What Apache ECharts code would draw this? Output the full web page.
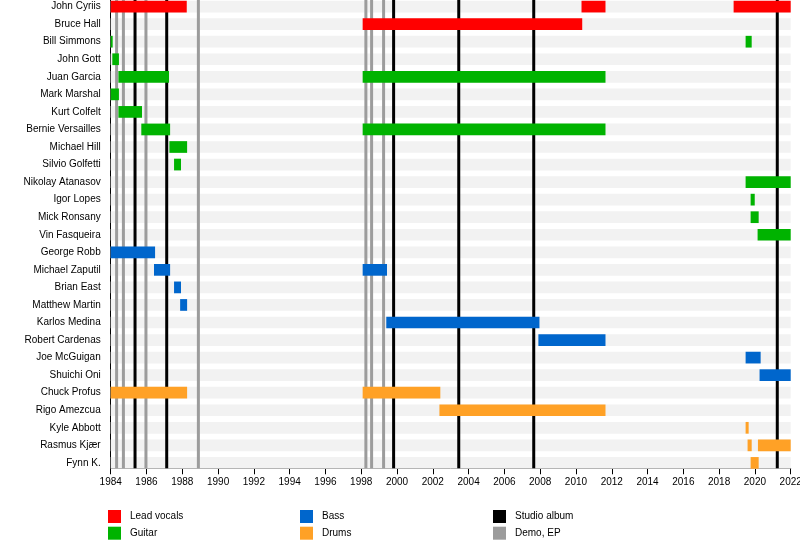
<!DOCTYPE html>
<html>
<head>
<meta charset="utf-8">
<script src="https://cdn.jsdelivr.net/npm/echarts@6/dist/echarts.min.js"></script>
<style>
  html, body { margin: 0; padding: 0; background: #fff; }
  #chart { width: 800px; height: 548px; }
</style>
</head>
<body>
<div id="chart"></div>
<script>
// ---- Data ----
const members = ['John Cyriis','Bruce Hall','Bill Simmons','John Gott','Juan Garcia','Mark Marshal','Kurt Colfelt','Bernie Versailles','Michael Hill','Silvio Golfetti','Nikolay Atanasov','Igor Lopes','Mick Ronsany','Vin Fasqueira','George Robb','Michael Zaputil','Brian East','Matthew Martin','Karlos Medina','Robert Cardenas','Joe McGuigan','Shuichi Oni','Chuck Profus','Rigo Amezcua','Kyle Abbott','Rasmus Kjær','Fynn K.'];

// [start, end, rowIndex]
const leadVocals = [[1984, 1988.25, 0], [2010.31, 2011.65, 0], [2018.81, 2022, 0], [1998.08, 2010.35, 1]];
const guitar = [[1984, 1984.11, 2], [2019.48, 2019.82, 2], [1984.09, 1984.46, 3], [1984.43, 1987.26, 4], [1998.08, 2011.65, 4], [1984, 1984.46, 5], [1984.43, 1985.75, 6], [1985.71, 1987.32, 7], [1998.08, 2011.65, 7], [1987.28, 1988.27, 8], [1987.54, 1987.93, 9], [2019.48, 2022, 10], [2019.76, 2019.99, 11], [2019.76, 2020.21, 12], [2020.15, 2022, 13]];
const bass = [[1984, 1986.48, 14], [1986.42, 1987.32, 15], [1998.08, 1999.44, 15], [1987.54, 1987.93, 16], [1987.88, 1988.27, 17], [1999.40, 2007.96, 18], [2007.90, 2011.65, 19], [2019.48, 2020.32, 20], [2020.26, 2022, 21]];
const drums = [[1984, 1988.27, 22], [1998.08, 2002.42, 22], [2002.37, 2011.65, 23], [2019.48, 2019.65, 24], [2019.59, 2019.82, 25], [2020.17, 2022, 25], [2019.76, 2020.21, 26]];

const studioAlbums = [1985.36, 1987.13, 1999.81, 2003.45, 2007.64, 2021.25];
const demosEps = [1984.33, 1984.71, 1985.97, 1988.9, 1998.26, 1998.58, 1999.25];

const yearMin = 1984, yearMax = 2022, yearStep = 2;

// ---- Styling / layout constants ----
const COLORS = { lead: '#ff0000', guitar: '#00b300', bass: '#0066cc', drums: '#ffa126', studio: '#000000', demo: '#9c9c9c', band: '#f2f2f2' };
const BAR_RATIO = 0.667;
const AXIS_SHIFT = -3.4;
const FONT = 'Liberation Sans, Arial, Helvetica, sans-serif';

const bands = members.map((m, i) => [yearMin, yearMax, i]);

function barRender(params, api) {
  const r = api.value(2);
  const p0 = api.coord([api.value(0), r]);
  const p1 = api.coord([api.value(1), r]);
  const h = api.size([0, 1])[1] * BAR_RATIO;
  return { type: 'rect', shape: { x: p0[0], y: p0[1] - h / 2, width: p1[0] - p0[0], height: h }, style: { fill: api.visual('color') } };
}
function lineRender(params, api) {
  const x = api.coord([api.value(0), 0])[0];
  const cs = params.coordSys;
  return { type: 'line', shape: { x1: x, y1: cs.y, x2: x, y2: cs.y + cs.height + AXIS_SHIFT }, style: { stroke: api.visual('color'), lineWidth: 3 } };
}
function barSeries(name, data, color) {
  return { name, type: 'custom', renderItem: barRender, data, encode: { x: [0, 1], y: 2 }, itemStyle: { color }, z: 5, silent: true };
}
function lineSeries(name, years, color) {
  return { name, type: 'custom', renderItem: lineRender, data: years.map(y => [y, 0]), encode: { x: 0, y: 1 }, itemStyle: { color }, z: 3, silent: true };
}
function legendBlock(names, left) {
  return { data: names, left, top: 510, orient: 'vertical', padding: 0, icon: 'rect', itemWidth: 13, itemHeight: 13, itemGap: 3.7, selectedMode: false,
    textStyle: { fontSize: 10, color: '#000', fontFamily: FONT, padding: [0, 0, 0, 4] } };
}

const chart = echarts.init(document.getElementById('chart'), null, { renderer: 'canvas' });
chart.setOption({
  animation: false,
  backgroundColor: '#fff',
  grid: { left: 110.7, right: 9.3, top: -2.175, height: 473.85, containLabel: false, outerBoundsMode: 'none' },
  xAxis: {
    type: 'value', min: yearMin, max: yearMax, interval: yearStep, offset: AXIS_SHIFT,
    axisLine: { show: true, lineStyle: { color: '#000', width: 1 } },
    axisTick: { show: true, length: 6, lineStyle: { color: '#000' } },
    axisLabel: { fontSize: 10, color: '#000', margin: 9, fontFamily: FONT, formatter: v => String(v) },
    splitLine: { show: false }
  },
  yAxis: {
    type: 'category', data: members, inverse: true,
    axisLine: { show: true, lineStyle: { color: '#000', width: 1 } },
    axisTick: { show: false },
    axisLabel: { fontSize: 10, color: '#000', margin: 10, fontFamily: FONT },
    splitLine: { show: false }
  },
  legend: [
    legendBlock(['Lead vocals', 'Guitar'], 108),
    legendBlock(['Bass', 'Drums'], 300),
    legendBlock(['Studio album', 'Demo, EP'], 493)
  ],
  series: [
    { name: 'bands', type: 'custom', renderItem: barRender, data: bands, encode: { x: [0, 1], y: 2 }, itemStyle: { color: COLORS.band }, z: 1, silent: true },
    lineSeries('Demo, EP', demosEps, COLORS.demo),
    lineSeries('Studio album', studioAlbums, COLORS.studio),
    barSeries('Lead vocals', leadVocals, COLORS.lead),
    barSeries('Guitar', guitar, COLORS.guitar),
    barSeries('Bass', bass, COLORS.bass),
    barSeries('Drums', drums, COLORS.drums)
  ]
});
</script>
</body>
</html>
